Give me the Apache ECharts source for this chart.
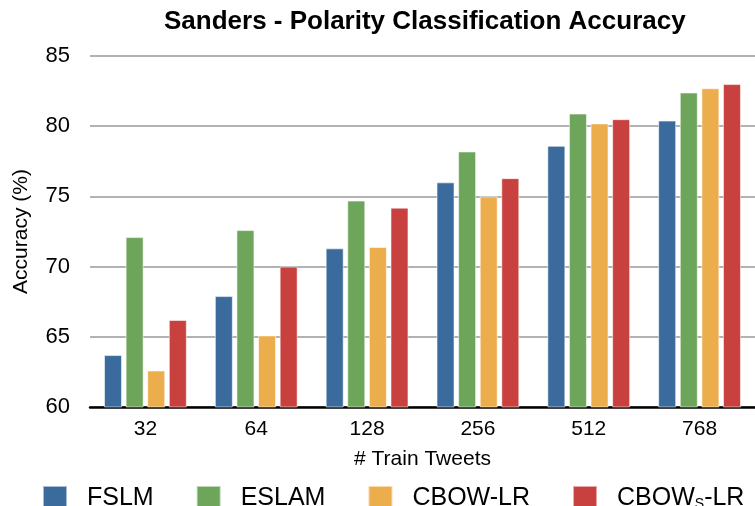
<!DOCTYPE html>
<html>
<head>
<meta charset="utf-8">
<script src="https://cdn.jsdelivr.net/npm/echarts@6/dist/echarts.min.js"></script>
<style>
  html, body { margin: 0; padding: 0; background: #fff; }
  #chart { width: 755px; height: 506px; }
</style>
</head>
<body>
<div id="chart"></div>
<script>
// data
const categories = ['32', '64', '128', '256', '512', '768'];
const fslm = [63.7, 67.9, 71.3, 76.0, 78.6, 80.4];
const eslam = [72.1, 72.6, 74.7, 78.2, 80.9, 82.4];
const cbowLr = [62.6, 65.1, 71.4, 75.0, 80.2, 82.7];
const cbowSLr = [66.2, 70.0, 74.2, 76.3, 80.5, 83.0];
const seriesNames = ['FSLM', 'ESLAM', 'CBOW-LR', 'CBOWs-LR'];
const colors = ['#3a6b9c', '#6da55a', '#ecae4c', '#c8413e'];

const font = 'Liberation Sans, Arial, sans-serif';

function bar(name, data, color) {
  return {
    name: name,
    type: 'bar',
    data: data,
    barWidth: 18,
    barGap: '20%',
    itemStyle: { color: color, borderColor: 'rgba(255,255,255,0.55)', borderWidth: 1 }
  };
}

const chart = echarts.init(document.getElementById('chart'));
chart.setOption({
  animation: false,
  textStyle: { fontFamily: font },
  title: {
    text: 'Sanders - Polarity Classification Accuracy',
    left: 159,
    top: 4,
    textStyle: { fontSize: 26, fontWeight: 'bold', color: '#000', fontFamily: font }
  },
  legend: {
    left: 37,
    top: 480,
    itemWidth: 24,
    itemHeight: 24,
    itemGap: 42,
    icon: 'rect',
    textStyle: {
      fontSize: 25,
      color: '#000',
      padding: [0, 0, 0, 15],
      rich: {
        a: { fontSize: 25, color: '#000', fontFamily: font },
        s: { fontSize: 14, color: '#000', fontFamily: font, verticalAlign: 'bottom', padding: [12, 0, 0, 0] }
      }
    },
    formatter: function (name) {
      if (name === 'CBOWs-LR') return '{a|CBOW}{s|S}{a|-LR}';
      return '{a|' + name + '}';
    },
    data: seriesNames
  },
  grid: { left: 90, top: 56, width: 667, height: 351 },
  xAxis: {
    type: 'category',
    data: categories,
    name: '# Train Tweets',
    nameLocation: 'middle',
    nameGap: 42,
    nameTextStyle: { fontSize: 21, color: '#000' },
    axisLine: { lineStyle: { color: '#000', width: 2.5 } },
    axisTick: { show: false },
    axisLabel: { fontSize: 21, color: '#000', margin: 12 }
  },
  yAxis: {
    type: 'value',
    min: 60,
    max: 85,
    interval: 5,
    name: 'Accuracy (%)',
    nameLocation: 'middle',
    nameGap: 58,
    nameTextStyle: { fontSize: 21, color: '#000' },
    axisLine: { show: false },
    axisTick: { show: false },
    axisLabel: { fontSize: 22, color: '#000', margin: 20 },
    splitLine: { lineStyle: { color: '#b2b2b2', width: 2 } }
  },
  series: [
    bar(seriesNames[0], fslm, colors[0]),
    bar(seriesNames[1], eslam, colors[1]),
    bar(seriesNames[2], cbowLr, colors[2]),
    bar(seriesNames[3], cbowSLr, colors[3])
  ]
});
</script>
</body>
</html>
